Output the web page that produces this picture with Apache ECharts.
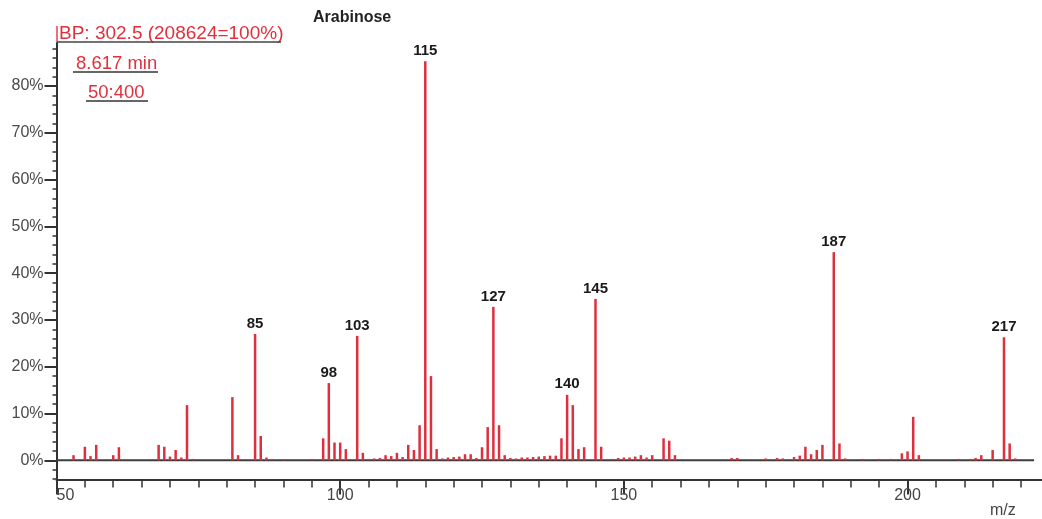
<!DOCTYPE html>
<html>
<head>
<meta charset="utf-8">
<script src="https://cdn.jsdelivr.net/npm/echarts@6/dist/echarts.min.js"></script>
<style>
  html, body { margin: 0; padding: 0; background: #fff; }
  #chart { width: 1042px; height: 519px; }
</style>
</head>
<body>
<div id="chart"></div>
<script>
// Mass spectrum of arabinose: m/z values and relative intensities (% of base peak)
const mzValues = [
  53, 55, 56, 57, 60, 61, 68, 69, 70, 71, 72, 73, 74,
  81, 82, 85, 86, 87, 88, 90, 95, 97, 98, 99, 100, 101, 103, 104,
  105, 106, 107, 108, 109, 110, 111, 112, 113, 114, 115, 116, 117,
  118, 119, 120, 121, 122, 123, 124, 125, 126, 127, 128, 129,
  130, 131, 132, 133, 134, 135, 136, 137, 138, 139, 140, 141, 142, 143,
  145, 146, 148, 149, 150, 151, 152, 153, 154, 155, 157, 158, 159,
  169, 170, 175, 177, 178, 180, 181, 182, 183, 184, 185, 187, 188, 189,
  192, 195, 197, 199, 200, 201, 202, 209, 211, 212, 213, 215, 217, 218, 219
];
const intensities = [
  1.1, 2.9, 0.9, 3.3, 1.1, 2.8, 3.3, 2.9, 0.8, 2.2, 0.6, 11.8, 0.3,
  13.5, 1.1, 27.0, 5.2, 0.6, 0.3, 0.2, 0.3, 4.7, 16.5, 3.8, 3.8, 2.4, 26.6, 1.6,
  0.3, 0.4, 0.5, 1.1, 0.9, 1.6, 0.7, 3.3, 2.2, 7.5, 85.3, 18.0, 2.4,
  0.4, 0.6, 0.7, 0.8, 1.3, 1.3, 0.5, 2.8, 7.1, 32.8, 7.5, 1.1,
  0.5, 0.4, 0.6, 0.6, 0.7, 0.8, 0.9, 1.0, 1.0, 4.7, 14.0, 11.8, 2.4, 2.8,
  34.5, 2.9, 0.3, 0.5, 0.6, 0.6, 0.8, 1.1, 0.6, 1.1, 4.7, 4.2, 1.1,
  0.5, 0.5, 0.4, 0.5, 0.4, 0.7, 1.0, 2.9, 1.3, 2.2, 3.3, 44.5, 3.6, 0.4,
  0.3, 0.3, 0.3, 1.5, 1.9, 9.3, 1.1, 0.3, 0.3, 0.5, 1.1, 2.2, 26.3, 3.6, 0.4
];
const labeledPeaks = [85, 98, 103, 115, 127, 140, 145, 187, 217];
const yTickLabels = [0, 10, 20, 30, 40, 50, 60, 70, 80];
const xTickLabels = [50, 100, 150, 200];
const baselineRange = [50, 222.3];

const Y_MIN = -4.1, Y_MAX = 89.2;
const X_MIN = 50, X_MAX = 223.7;

// minor tick positions
const yMinorTicks = [];
for (let v = -4; v <= 88; v += 2) yMinorTicks.push(v);
const xMinorTicks = [];
for (let v = 50; v <= 220; v += 5) xMinorTicks.push(v);

const peakRed = '#de2f3e';
const axisColor = '#333';
const textFont = '"Liberation Sans", Arial, sans-serif';

const barData = mzValues.map((mz, i) => {
  const item = { value: [mz, intensities[i]] };
  if (labeledPeaks.includes(mz)) {
    item.label = {
      show: true,
      position: 'top',
      distance: 3,
      formatter: String(mz),
      fontFamily: textFont,
      fontWeight: 'bold',
      fontSize: 15,
      color: '#1a1a1a'
    };
  }
  return item;
});

const chart = echarts.init(document.getElementById('chart'), null, { renderer: 'canvas' });

chart.setOption({
  animation: false,
  backgroundColor: '#fff',
  grid: { left: 56.5, right: 0, top: 43, bottom: 39.5, containLabel: false },
  xAxis: [
    {
      type: 'value', min: X_MIN, max: X_MAX, interval: 5, position: 'bottom',
      axisLine: { show: true, onZero: false, lineStyle: { color: axisColor, width: 2 } },
      axisTick: { show: true, length: 8, customValues: xMinorTicks, lineStyle: { color: axisColor, width: 1.5 } },
      axisLabel: {
        customValues: xTickLabels, fontFamily: textFont, fontSize: 16, color: '#444',
        margin: 8, alignMinLabel: 'left'
      },
      splitLine: { show: false }
    },
    {
      type: 'value', min: X_MIN, max: X_MAX, position: 'bottom', offset: 0,
      axisLine: { show: false, onZero: false },
      axisTick: { show: true, length: 15, customValues: xTickLabels, lineStyle: { color: axisColor, width: 2 } },
      axisLabel: { show: false },
      splitLine: { show: false }
    }
  ],
  yAxis: [
    {
      type: 'value', min: Y_MIN, max: Y_MAX, position: 'left',
      axisLine: { show: true, onZero: false, lineStyle: { color: axisColor, width: 2 } },
      axisTick: { show: true, length: 12, customValues: yTickLabels, lineStyle: { color: axisColor, width: 2 } },
      axisLabel: {
        customValues: yTickLabels, formatter: v => v + '%',
        fontFamily: textFont, fontSize: 16, color: '#4a4a4a', margin: 13
      },
      splitLine: { show: false }
    },
    {
      type: 'value', min: Y_MIN, max: Y_MAX, position: 'left', offset: 0,
      axisLine: { show: false, onZero: false },
      axisTick: { show: true, length: 4, customValues: yMinorTicks, lineStyle: { color: axisColor, width: 1.5 } },
      axisLabel: { show: false },
      splitLine: { show: false }
    }
  ],
  series: [
    {
      type: 'line',
      xAxisIndex: 0, yAxisIndex: 0,
      data: [[baselineRange[0], 0], [baselineRange[1], 0]],
      symbol: 'none',
      lineStyle: { color: '#3d3d3d', width: 2 },
      z: 1,
      silent: true
    },
    {
      type: 'bar',
      xAxisIndex: 0, yAxisIndex: 0,
      data: barData,
      barWidth: 2.5,
      itemStyle: { color: peakRed },
      z: 2
    }
  ],
  graphic: [
    {
      type: 'text', left: 313, top: 10,
      style: { text: 'Arabinose', font: 'bold 16px ' + textFont, fill: '#222' }
    },
    {
      type: 'line', shape: { x1: 57, y1: 26, x2: 57, y2: 42 },
      style: { stroke: '#e0454f', lineWidth: 1.5 }
    },
    {
      type: 'text', left: 59, top: 24,
      style: { text: 'BP: 302.5 (208624=100%)', font: '19px ' + textFont, fill: '#e0303c' }
    },
    {
      type: 'line', shape: { x1: 57, y1: 42, x2: 281, y2: 42 },
      style: { stroke: '#444', lineWidth: 1.5 }
    },
    {
      type: 'text', left: 76, top: 54,
      style: { text: '8.617 min', font: '18.5px ' + textFont, fill: '#e0303c' }
    },
    {
      type: 'line', shape: { x1: 73, y1: 72, x2: 158, y2: 72 },
      style: { stroke: '#333', lineWidth: 1.5 }
    },
    {
      type: 'text', left: 88, top: 83,
      style: { text: '50:400', font: '18.5px ' + textFont, fill: '#e0303c' }
    },
    {
      type: 'line', shape: { x1: 86, y1: 101, x2: 148, y2: 101 },
      style: { stroke: '#333', lineWidth: 1.5 }
    },
    {
      type: 'text', left: 990, top: 503,
      style: { text: 'm/z', font: '16px ' + textFont, fill: '#444' }
    }
  ]
});
</script>
</body>
</html>
